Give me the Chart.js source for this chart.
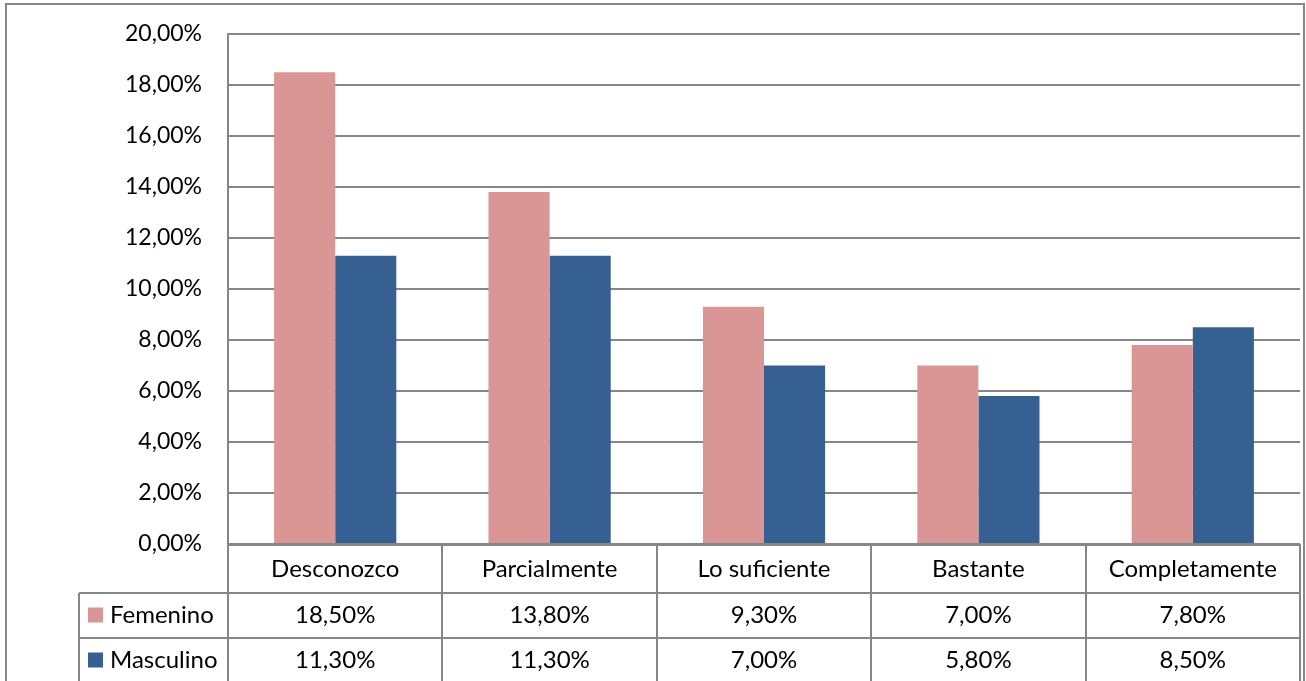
<!DOCTYPE html>
<html>
<head>
<meta charset="utf-8">
<script src="https://cdn.jsdelivr.net/npm/chart.js@4.4.0/dist/chart.umd.min.js"></script>
<style>
  html, body { margin: 0; padding: 0; background: #fff; }
  #wrap { width: 1306px; height: 681px; }
</style>
</head>
<body>
<div id="wrap"><canvas id="chart" width="1306" height="681"></canvas></div>
<script>
// Data (percent values)
const categories = ['Desconozco', 'Parcialmente', 'Lo suficiente', 'Bastante', 'Completamente'];
const seriesNames = ['Femenino', 'Masculino'];
const femenino = [18.5, 13.8, 9.3, 7.0, 7.8];
const masculino = [11.3, 11.3, 7.0, 5.8, 8.5];
const yMin = 0, yMax = 20, yStep = 2;

const PINK = '#D99694';
const BLUE = '#376092';
const LINE = '#868686';
const FONT = 'Lato, "Liberation Sans", sans-serif';
const FONT_SIZE = 24;
const TICK_SIZE = 23;

const fmt = v => v.toFixed(2).replace('.', ',') + '%';

// Draws the chart frame and the data table under the x axis
const dataTable = {
  id: 'dataTable',
  afterDraw(chart) {
    const ctx = chart.ctx;
    const area = chart.chartArea;
    const xs = chart.scales.x;
    const n = categories.length;
    const colW = (area.right - area.left) / n;
    const top = area.bottom;
    const headBottom = top + 49;
    const rowH = 45;
    const legendLeft = 79;
    const bottom = chart.height + 5;

    ctx.save();
    ctx.strokeStyle = LINE;
    ctx.lineWidth = 2;

    // outer frame (bottom edge falls outside the canvas)
    ctx.strokeRect(6, 4, 1298, bottom);

    ctx.beginPath();
    // table top
    ctx.moveTo(area.left, top + 1); ctx.lineTo(area.right, top + 1);
    // row separators
    for (let r = 0; r < seriesNames.length; r++) {
      const y = headBottom + r * rowH;
      ctx.moveTo(legendLeft, y); ctx.lineTo(area.right, y);
    }
    // column separators
    for (let i = 0; i <= n; i++) {
      const x = Math.round(area.left + i * colW);
      ctx.moveTo(x, top); ctx.lineTo(x, bottom);
    }
    // legend column left edge
    ctx.moveTo(legendLeft, headBottom); ctx.lineTo(legendLeft, bottom);
    ctx.stroke();

    // table text
    ctx.fillStyle = '#000';
    ctx.font = FONT_SIZE + 'px ' + FONT;
    ctx.textBaseline = 'middle';
    const rows = [femenino, masculino];
    const colors = [PINK, BLUE];
    rows.forEach((vals, r) => {
      const cy = headBottom + r * rowH + rowH / 2;
      // legend key + series name
      ctx.fillStyle = colors[r];
      ctx.fillRect(88, cy - 8, 15, 15);
      ctx.fillStyle = '#000';
      ctx.textAlign = 'left';
      ctx.fillText(seriesNames[r], 110, cy);
      ctx.textAlign = 'center';
      vals.forEach((v, i) => {
        ctx.fillText(fmt(v), xs.getPixelForValue(i), cy);
      });
    });
    ctx.restore();
  }
};

new Chart(document.getElementById('chart'), {
  type: 'bar',
  data: {
    labels: categories,
    datasets: [
      { label: seriesNames[0], data: femenino, backgroundColor: PINK },
      { label: seriesNames[1], data: masculino, backgroundColor: BLUE }
    ]
  },
  options: {
    responsive: false,
    animation: false,
    devicePixelRatio: 1,
    layout: { padding: { top: 34, right: 6, bottom: 0, left: 0 } },
    datasets: {
      bar: { categoryPercentage: 0.57, barPercentage: 1.0 }
    },
    plugins: {
      legend: { display: false },
      tooltip: { enabled: false }
    },
    scales: {
      x: {
        grid: { display: false, drawTicks: false },
        border: { display: false },
        ticks: {
          color: '#000',
          font: { family: FONT, size: FONT_SIZE },
          padding: 11,
          maxRotation: 0
        },
        afterFit: s => { s.height = 137; }
      },
      y: {
        min: yMin,
        max: yMax,
        grid: { color: LINE, lineWidth: 2, drawTicks: false },
        border: { display: true, color: LINE, width: 2 },
        ticks: {
          stepSize: yStep,
          color: '#000',
          font: { family: FONT, size: TICK_SIZE },
          padding: 26,
          callback: v => fmt(v)
        },
        // fixed axis width; tick padding should not push the plot down
        afterFit: s => { s.width = 228; s.paddingTop = 0; s.paddingBottom = 0; }
      }
    }
  },
  plugins: [dataTable]
});
</script>
</body>
</html>
